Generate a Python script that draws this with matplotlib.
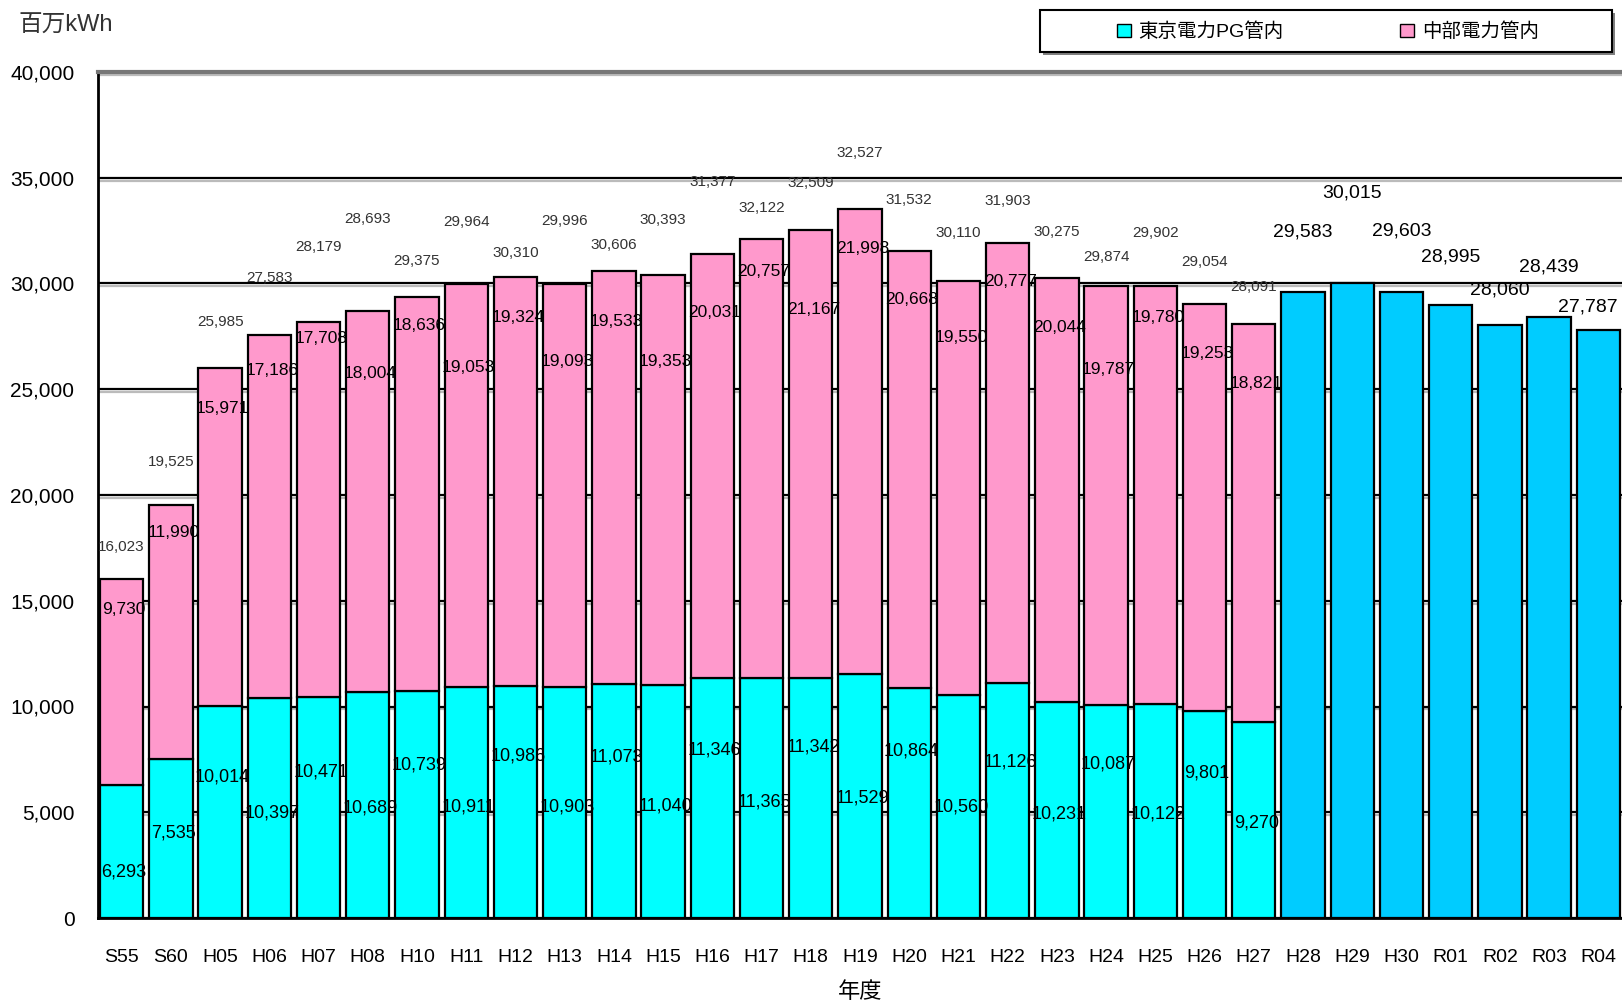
import matplotlib
matplotlib.use('Agg')
import matplotlib.pyplot as plt
import matplotlib.patheffects as pe
from matplotlib.patches import Patch, Rectangle
from matplotlib.ticker import FuncFormatter, MultipleLocator

plt.rcParams['font.family'] = ['Liberation Sans', 'Noto Sans CJK JP', 'DejaVu Sans']

# data (百万kWh)
stack_years = ['S55', 'S60', 'H05', 'H06', 'H07', 'H08', 'H10', 'H11', 'H12', 'H13',
               'H14', 'H15', 'H16', 'H17', 'H18', 'H19', 'H20', 'H21', 'H22', 'H23',
               'H24', 'H25', 'H26', 'H27']
tokyo = [6293, 7535, 10014, 10397, 10471, 10689, 10739, 10911, 10986, 10903,
         11073, 11040, 11346, 11365, 11342, 11529, 10864, 10560, 11126, 10231,
         10087, 10122, 9801, 9270]
chubu = [9730, 11990, 15971, 17186, 17708, 18004, 18636, 19053, 19324, 19093,
         19533, 19353, 20031, 20757, 21167, 21998, 20668, 19550, 20777, 20044,
         19787, 19780, 19253, 18821]
# totals as printed on the chart
stack_total_labels = [16023, 19525, 25985, 27583, 28179, 28693, 29375, 29964, 30310, 29996,
                      30606, 30393, 31377, 32122, 32509, 32527, 31532, 30110, 31903, 30275,
                      29874, 29902, 29054, 28091]
recent_years = ['H28', 'H29', 'H30', 'R01', 'R02', 'R03', 'R04']
recent_totals = [29583, 30015, 29603, 28995, 28060, 28439, 27787]

# label layout: how far each value label sits from its bar edge (axis units)
tokyo_label_drop = [4100, 3500, 3350, 5450, 3550, 5500, 3500, 5650, 3350, 5650, 3450, 5750,
                    3400, 5900, 3250, 5850, 2950, 5300, 3750, 5300, 2800, 5200, 2950, 4800]
chubu_label_drop = [1450, 1300, 1900, 1700, 800, 2950, 1350, 3950, 1900, 3700, 2400, 4100,
                    2750, 1550, 3750, 1850, 2300, 2650, 1800, 2350, 3950, 1500, 2350, 2800]
total_label_lift = [1500, 2050, 2200, 2700, 3550, 4350, 1700, 2950, 1150, 2950, 1200, 2600,
                    3400, 1450, 2250, 2650, 2400, 2300, 2000, 2150, 1400, 2500, 1950, 1750]
recent_label_lift = [2850, 4250, 2900, 2250, 1650, 2350, 1100]

c_tokyo = '#00FFFF'
c_chubu = '#FF99CC'
c_recent = '#00CCFF'

fig = plt.figure(figsize=(16.22, 10.07), dpi=100)
ax = fig.add_axes([98 / 1622, 1 - 918 / 1007, 1 - 98 / 1622, (918 - 72) / 1007])

n1 = len(stack_years)
x1 = list(range(n1))
x2 = list(range(n1, n1 + len(recent_years)))
w = 0.88
xmax = n1 + len(recent_years) - 0.52

ax.bar(x1, tokyo, width=w, color=c_tokyo, edgecolor='black', linewidth=1.6, zorder=2)
ax.bar(x1, chubu, width=w, bottom=tokyo, color=c_chubu, edgecolor='black', linewidth=1.6, zorder=2)
ax.bar(x2, recent_totals, width=w, color=c_recent, edgecolor='black', linewidth=1.6, zorder=2)

# value labels
for i in x1:
    tot = tokyo[i] + chubu[i]
    ax.text(i + 0.05, tokyo[i] - tokyo_label_drop[i], f'{tokyo[i]:,}',
            ha='center', va='center', fontsize=13, zorder=4)
    ax.text(i + 0.05, tot - chubu_label_drop[i], f'{chubu[i]:,}',
            ha='center', va='center', fontsize=12.5, zorder=4)
    ax.text(i, tot + total_label_lift[i], f'{stack_total_labels[i]:,}',
            ha='center', va='center', fontsize=11, color='#333333', zorder=4)
for j, i in enumerate(x2):
    yl = recent_totals[j] + recent_label_lift[j]
    if i == x2[-1]:
        ax.text(xmax - 0.08, yl, f'{recent_totals[j]:,}', ha='right', va='center',
                fontsize=14, zorder=4)
    else:
        ax.text(i, yl, f'{recent_totals[j]:,}', ha='center', va='center',
                fontsize=14, zorder=4)

ax.set_xlim(-0.48, xmax)
ax.set_ylim(0, 40000)
ax.yaxis.set_major_locator(MultipleLocator(5000))
ax.yaxis.set_major_formatter(FuncFormatter(lambda v, p: f'{int(v):,}'))
ax.set_xticks(x1 + x2)
ax.set_xticklabels(stack_years + recent_years, fontsize=14)
ax.tick_params(axis='x', length=0, pad=22)
ax.tick_params(axis='y', length=0, pad=17, labelsize=15)

ax.set_axisbelow(True)
ax.yaxis.grid(True, color='black', linewidth=1.6)
for gl in ax.get_ygridlines():
    gl.set_path_effects([pe.SimpleLineShadow(offset=(0, -2), shadow_color='#bbbbbb', alpha=1), pe.Normal()])

ax.spines['right'].set_visible(False)
ax.spines['top'].set_color('#777777')
ax.spines['top'].set_linewidth(3)
ax.spines['left'].set_linewidth(2)
ax.spines['bottom'].set_linewidth(2)

fig.text(18 / 1622, 1 - 26 / 1007, '百万kWh', fontsize=17, va='center', ha='left', color='#333333')
ax.set_xlabel('年度', fontsize=16, labelpad=12)

# legend box with shadow
W, H = 1622, 1007
fig.patches.append(Rectangle((1043 / W, 1 - 55 / H), 572 / W, 42 / H, transform=fig.transFigure,
                             facecolor='#808080', edgecolor='none', zorder=1))
fig.patches.append(Rectangle((1040 / W, 1 - 52 / H), 572 / W, 42 / H, transform=fig.transFigure,
                             facecolor='white', edgecolor='black', linewidth=1.5, zorder=2))
handles = [Patch(facecolor=c_tokyo, edgecolor='black', label='東京電力PG管内'),
           Patch(facecolor=c_chubu, edgecolor='black', label='中部電力管内')]
leg = fig.legend(handles=handles, loc='center', ncol=2,
                 bbox_to_anchor=(1328 / W, 1 - 32 / H),
                 fontsize=14, frameon=False, handlelength=0.7, handleheight=0.7,
                 handletextpad=0.4, columnspacing=6.0, borderaxespad=0)
leg.set_zorder(3)

fig.savefig('out.png', dpi=100)
